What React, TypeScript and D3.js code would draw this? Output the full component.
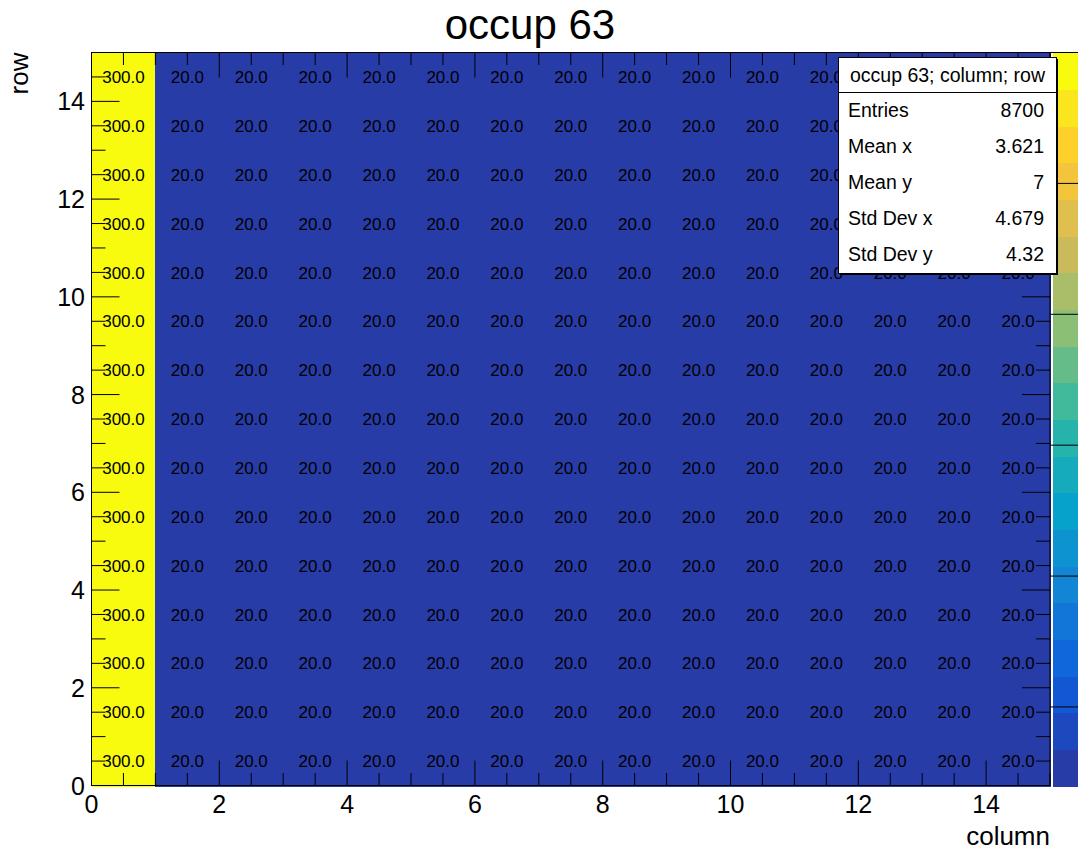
import React from "react";
import * as d3 from "d3";

// ---- data ----
const title = "occup 63";
const xTitle = "column";
const yTitle = "row";
const nColumns = 15;
const nRows = 15;
// value of each column (identical in every row)
const columnValues = [300, 20, 20, 20, 20, 20, 20, 20, 20, 20, 20, 20, 20, 20, 20];
const xTickLabels = ["0", "2", "4", "6", "8", "10", "12", "14"];
const yTickLabels = ["0", "2", "4", "6", "8", "10", "12", "14"];
const paletteTicks = [50, 100, 150, 200, 250, 300];
const zMin = 20;
const zMax = 300;
const nContours = 20;
const statsHeader = "occup 63; column; row";
const statsLabels = ["Entries", "Mean x", "Mean y", "Std Dev x", "Std Dev y"];
const statsValues = ["8700", "3.621", "7", "4.679", "4.32"];

// palette stops (bird-like)
const paletteStops = [0, 0.125, 0.25, 0.375, 0.5, 0.625, 0.75, 0.875, 1];
const paletteColors = [
  "rgb(40,60,168)",
  "rgb(15,92,221)",
  "rgb(20,129,214)",
  "rgb(6,164,202)",
  "rgb(46,183,164)",
  "rgb(135,191,119)",
  "rgb(209,187,89)",
  "rgb(254,200,50)",
  "rgb(249,251,14)",
];

const W = 1078;
const H = 849;
const FL = 91.5;
const FR = 1050;
const FT = 52.5;
const FB = 785.5;
const FONT = "'Liberation Sans', Arial, Helvetica, sans-serif";

export default function App() {
  const x = d3.scaleLinear().domain([0, nColumns]).range([FL, FR]);
  const y = d3.scaleLinear().domain([0, nRows]).range([FB, FT]);
  const pal = d3
    .scaleLinear<string>()
    .domain(paletteStops)
    .range(paletteColors)
    .interpolate(d3.interpolateRgb);
  const zY = d3.scaleLinear().domain([zMin, zMax]).range([FB, FT]);
  const bandIndex = (v: number) =>
    Math.min(nContours - 1, Math.max(0, Math.floor(((v - zMin) / (zMax - zMin)) * nContours)));
  const bandColor = (i: number) => pal(i / (nContours - 1));

  const rows = d3.range(nRows);
  const cols = d3.range(nColumns);
  const majorX = xTickLabels.map((s) => +s);
  const majorY = yTickLabels.map((s) => +s);
  const minorX = d3.range(0, nColumns + 0.001, 0.5).filter((v) => !majorX.includes(v));
  const minorY = d3.range(0, nRows + 0.001, 0.5).filter((v) => !majorY.includes(v));

  const xMajLen = 25, xMinLen = 12.5, yMajLen = 28, yMinLen = 14;
  const cellFont = 17;

  const palX0 = 1053;
  const palX1 = 1078;

  const sbL = 838.5, sbR = 1056.5, sbT = 57.5, sbB = 273.5;

  return (
    <svg
      width={W}
      height={H}
      style={{ position: "absolute", left: 0, top: 0, background: "#fff" }}
      fontFamily={FONT}
    >
      <rect x={0} y={0} width={W} height={H} fill="#fff" />
      {/* cells */}
      <g shapeRendering="crispEdges">
        {rows.map((r) =>
          cols.map((c) => (
            <rect
              key={`c${r}-${c}`}
              x={x(c)}
              y={y(r + 1)}
              width={x(c + 1) - x(c) + 1}
              height={y(r) - y(r + 1) + 1}
              fill={bandColor(bandIndex(columnValues[c]))}
            />
          ))
        )}
      </g>
      {/* cell texts */}
      {rows.map((r) =>
        cols.map((c) => (
          <text
            key={`t${r}-${c}`}
            x={x(c + 0.5)}
            y={y(r + 0.5) + cellFont * 0.36}
            textAnchor="middle"
            fontSize={cellFont}
            fill="#000"
          >
            {columnValues[c].toFixed(1)}
          </text>
        ))
      )}
      {/* ticks */}
      <g stroke="#000" strokeWidth={1}>
        {majorX.map((v) => (
          <g key={`mx${v}`}>
            <line x1={x(v)} x2={x(v)} y1={FB} y2={FB - xMajLen} />
            <line x1={x(v)} x2={x(v)} y1={FT} y2={FT + xMajLen} />
          </g>
        ))}
        {minorX.map((v) => (
          <g key={`nx${v}`}>
            <line x1={x(v)} x2={x(v)} y1={FB} y2={FB - xMinLen} />
            <line x1={x(v)} x2={x(v)} y1={FT} y2={FT + xMinLen} />
          </g>
        ))}
        {majorY.map((v) => (
          <g key={`my${v}`}>
            <line x1={FL} x2={FL + yMajLen} y1={y(v)} y2={y(v)} />
            <line x1={FR} x2={FR - yMajLen} y1={y(v)} y2={y(v)} />
          </g>
        ))}
        {minorY.map((v) => (
          <g key={`ny${v}`}>
            <line x1={FL} x2={FL + yMinLen} y1={y(v)} y2={y(v)} />
            <line x1={FR} x2={FR - yMinLen} y1={y(v)} y2={y(v)} />
          </g>
        ))}
      </g>
      {/* frame */}
      <rect x={FL} y={FT} width={FR - FL} height={FB - FT} fill="none" stroke="#000" strokeWidth={1} />
      {/* tick labels */}
      {xTickLabels.map((s) => (
        <text key={`xl${s}`} x={x(+s)} y={813} textAnchor="middle" fontSize={25} fill="#000">
          {s}
        </text>
      ))}
      {yTickLabels.map((s) => (
        <text key={`yl${s}`} x={85} y={y(+s) + 9} textAnchor="end" fontSize={25} fill="#000">
          {s}
        </text>
      ))}
      {/* axis titles */}
      <text x={FR} y={845} textAnchor="end" fontSize={26} fill="#000">
        {xTitle}
      </text>
      <text
        transform={`translate(28,${FT}) rotate(-90)`}
        textAnchor="end"
        fontSize={26}
        fill="#000"
      >
        {yTitle}
      </text>
      {/* title */}
      <text x={530} y={39} textAnchor="middle" fontSize={42} fill="#000">
        {title}
      </text>
      {/* palette */}
      <g shapeRendering="crispEdges">
        {d3.range(nContours).map((i) => {
          const v0 = zMin + ((zMax - zMin) * i) / nContours;
          const v1 = zMin + ((zMax - zMin) * (i + 1)) / nContours;
          return (
            <rect
              key={`p${i}`}
              x={palX0}
              y={zY(v1)}
              width={palX1 - palX0}
              height={zY(v0) - zY(v1) + 1}
              fill={bandColor(i)}
            />
          );
        })}
      </g>
      {paletteTicks.map((v) => (
        <line key={`pt${v}`} x1={FR} x2={palX1} y1={zY(v)} y2={zY(v)} stroke="#000" strokeWidth={1} />
      ))}
      {/* stats box */}
      <rect x={sbL + 1.5} y={sbT + 1.5} width={sbR - sbL} height={sbB - sbT} fill="#000" />
      <rect x={sbL} y={sbT} width={sbR - sbL} height={sbB - sbT} fill="#fff" stroke="#000" strokeWidth={1} />
      <line x1={sbL} x2={sbR} y1={92.5} y2={92.5} stroke="#000" strokeWidth={1} />
      <text x={(sbL + sbR) / 2} y={82} textAnchor="middle" fontSize={19.5} fill="#000">
        {statsHeader}
      </text>
      {statsLabels.map((s, i) => (
        <g key={`s${i}`}>
          <text x={848} y={117 + i * 36} fontSize={19.5} fill="#000">
            {s}
          </text>
          <text x={1044} y={117 + i * 36} textAnchor="end" fontSize={19.5} fill="#000">
            {statsValues[i]}
          </text>
        </g>
      ))}
    </svg>
  );
}
